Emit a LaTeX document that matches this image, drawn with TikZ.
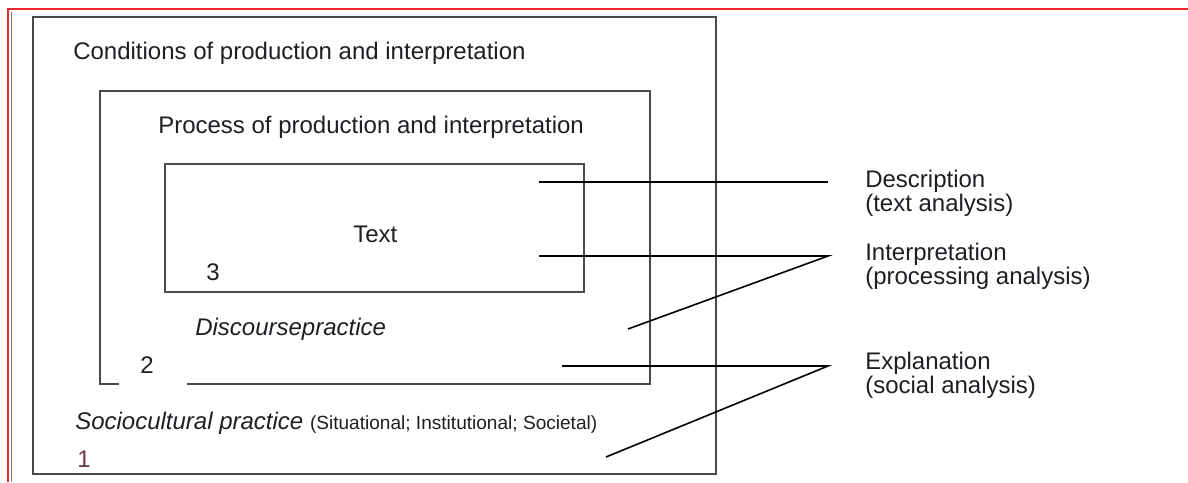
\documentclass[tikz,border=0pt]{standalone}
\usepackage{fontspec}
\setmainfont{Liberation Sans}
\usetikzlibrary{positioning}
\definecolor{ink}{HTML}{1E1E24}
\definecolor{boxgray}{HTML}{4A4A4A}
\definecolor{numred}{HTML}{6B3A4A}
\definecolor{frame}{HTML}{E8282B}
\newcommand{\paren}{\upshape\fontsize{14.3}{15}\selectfont}
\begin{document}
\begin{tikzpicture}
	[
	x=0.75pt, y=-0.75pt,
	box/.style = {draw=boxgray, line width=1.2pt},
	link/.style = {draw=black, line width=1.2pt},
	txt/.style = {inner sep=0pt, anchor=base west, text=ink, font=\fontsize{18}{15}\selectfont},
	lbl/.style = {txt, align=left}
	]
	\useasboundingbox (0,0) rectangle (1188,482);
	% page frame
	\draw[frame, line width=1.6pt] (8,482) -- (8,9) -- (1188,9);
	\draw[gray, line width=0.6pt] (11.5,482) -- (11.5,12);

	% nested boxes
	\draw[box] (33,17) rectangle (716,474);
	\draw[box] (119,384) -- (100,384) -- (100,91) -- (650,91) -- (650,384) -- (187,384);
	\draw[box] (165,164) rectangle (584,292);

	\node[txt] (cond) at (73,59) {Conditions of production and interpretation};
	\node[txt] (proc) at (158,133) {Process of production and interpretation};
	\node[txt] (text) at (353,242) {Text};
	\node[txt] (three) at (206,280) {3};
	\node[txt] (disc) at (195,335) {\itshape Discoursepractice};
	\node[txt] (two) at (140,373) {2};
	\node[txt] (socio) at (75,429) {\itshape Sociocultural practice \paren(Situational; Institutional; Societal)};
	\node[txt, text=numred] (one) at (77,467) {1};

	% levels of analysis
	\coordinate (descA) at (539,182);
	\coordinate (descB) at (828,182);
	\coordinate (intA) at (539,256);
	\coordinate (intB) at (828,256);
	\coordinate (intC) at (628,329);
	\coordinate (explA) at (562,366);
	\coordinate (explB) at (828,366);
	\coordinate (explC) at (606,457);

	\draw[link] (descA) -- (descB);
	\draw[link] (intA) -- (intB) -- (intC);
	\draw[link] (explA) -- (explB) -- (explC);

	\node[lbl] (desc) at (865,211) {Description\\(text analysis)};
	\node[lbl] (interp) at (865,284) {Interpretation\\(processing analysis)};
	\node[lbl] (expl) at (865,393) {Explanation\\(social analysis)};
\end{tikzpicture}
\end{document}
